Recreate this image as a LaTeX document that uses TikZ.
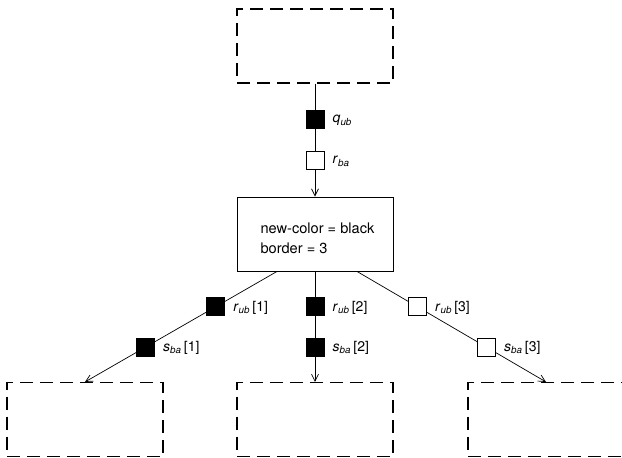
\documentclass[tikz,border=0pt]{standalone}
\usepackage{fontspec}
\setmainfont{TeX Gyre Heros}
\usetikzlibrary{arrows.meta,calc}
\begin{document}
\begin{tikzpicture}[x=1pt,y=-1pt,
  dashbox/.style={draw,line width=1.1pt,dash pattern=on 13pt off 7pt,minimum width=156pt,minimum height=74pt,inner sep=0pt},
  solidbox/.style={draw,line width=0.9pt,minimum width=156pt,minimum height=74pt,inner sep=0pt},
  conn/.style={line width=0.7pt,-{Straight Barb[length=7pt,width=7pt,line width=0.7pt]}},
  blk/.style={draw,fill=black,line width=1pt,minimum size=18pt,inner sep=0pt},
  wht/.style={draw,fill=white,line width=1pt,minimum size=18pt,inner sep=0pt},
  lbl/.style={anchor=west,font=\fontsize{14}{16}\selectfont,inner sep=0pt,xshift=8pt,yshift=-1pt}]
\useasboundingbox (0,0) rectangle (622,458);
\node[dashbox] (top) at (315,46) {};
\node[solidbox] (mid) at (315,234) {};
\node[anchor=west,align=left,font=\fontsize{14.6}{20}\selectfont] (txt) at (257,238) {new-color = black\\border = 3};
\node[dashbox] (bl) at (85,419.5) {};
\node[dashbox] (bm) at (315,419.5) {};
\node[dashbox] (br) at (546,419.5) {};
\coordinate (ml) at ($(mid.south)+(-38,0)$);
\coordinate (mr) at ($(mid.south)+(42,0)$);
\draw[conn] (top.south) -- (mid.north)
  node[blk,pos=0.32] (q) {} node[wht,pos=0.68] (r) {};
\draw[conn] (ml) -- (bl.north)
  node[blk,pos=0.32] (r1) {} node[blk,pos=0.685] (s1) {};
\draw[conn] (mid.south) -- (bm.north)
  node[blk,pos=0.32] (r2) {} node[blk,pos=0.685] (s2) {};
\draw[conn] (mr) -- (br.north)
  node[wht,pos=0.32] (r3) {} node[wht,pos=0.685] (s3) {};
\node[lbl] (lq) at (q.east) {\textit{q}\textsubscript{\textit{ub}}};
\node[lbl] (lr) at (r.east) {\textit{r}\textsubscript{\textit{ba}}};
\node[lbl] (lr1) at (r1.east) {\textit{r}\textsubscript{\textit{ub}}\,[1]};
\node[lbl] (ls1) at (s1.east) {\textit{s}\textsubscript{\textit{ba}}\,[1]};
\node[lbl] (lr2) at (r2.east) {\textit{r}\textsubscript{\textit{ub}}\,[2]};
\node[lbl] (ls2) at (s2.east) {\textit{s}\textsubscript{\textit{ba}}\,[2]};
\node[lbl] (lr3) at (r3.east) {\textit{r}\textsubscript{\textit{ub}}\,[3]};
\node[lbl] (ls3) at (s3.east) {\textit{s}\textsubscript{\textit{ba}}\,[3]};
\end{tikzpicture}
\end{document}
